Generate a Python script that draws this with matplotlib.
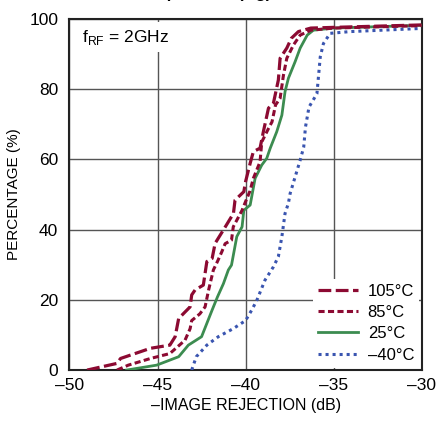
import matplotlib
matplotlib.use("Agg")
import matplotlib.pyplot as plt
from matplotlib.ticker import FuncFormatter, MultipleLocator

plt.rcParams['font.family'] = ['Liberation Sans', 'DejaVu Sans']
plt.rcParams['mathtext.fontset'] = 'custom'
plt.rcParams['mathtext.rm'] = 'Liberation Sans'

labels = ["105°C", "85°C", "25°C", "–40°C"]

x_105 = [-49.0, -47.3, -47.1, -45.4, -44.3, -44.0, -43.8, -43.15, -43.06, -42.87, -42.4, -42.2, -41.9,
         -41.73, -41.26, -40.69, -40.6, -40.1, -40.0, -39.74, -39.56, -39.18, -38.99, -38.7, -38.42,
         -38.14, -38.04, -37.66, -37.4, -37.0, -36.3, -35.0, -30.0]
y_105 = [0, 1.9, 3.3, 6.2, 7.1, 9.5, 14.7, 18, 21.4, 22.8, 24.2, 30.9, 31.8, 36.1, 39.9, 44.6, 48.4,
         50.8, 53.7, 58.9, 62.2, 63.2, 67.9, 74.6, 76.0, 82.6, 88.8, 91.7, 94.5, 96.4, 97.4, 97.6, 98.3]

x_85 = [-47.3, -46.66, -45.4, -44.3, -43.44, -43.15, -43.06, -42.6, -42.3, -42.1, -41.83, -41.6, -41.35,
        -41.16, -40.8, -40.7, -40.2, -40.0, -39.75, -39.56, -39.18, -39.08, -38.7, -38.5, -38.3, -38.04,
        -37.85, -37.66, -37.28, -36.9, -36.3, -35.0, -30.0]
y_85 = [0, 1.4, 3.3, 4.7, 8.5, 11.8, 14.1, 16, 18, 22.8, 28.5, 30.9, 33.7, 36, 37, 40.8, 45.5, 48,
        51, 54.6, 59.3, 65, 68.8, 70.7, 75.5, 77.4, 84, 88.8, 92.6, 95.4, 96.8, 97.4, 98.1]

x_25 = [-46.75, -45.05, -43.8, -43.25, -42.5, -42.2, -41.9, -41.6, -41.26, -40.98, -40.8, -40.5, -40.2,
        -40.1, -39.74, -39.46, -39.08, -38.8, -38.6, -38.23, -37.94, -37.76, -37.57, -37.19, -36.9,
        -36.5, -36.15, -35.0, -30.0]
y_25 = [0, 1.4, 3.8, 7.1, 9.5, 13.3, 17.1, 20.8, 24.6, 28.5, 29.9, 38, 40.8, 45.5, 47, 54.6, 58.4,
        60.3, 63.2, 67.9, 72.6, 79.3, 83.1, 87.8, 91.7, 95.4, 96.8, 97.4, 98.2]

x_m40 = [-43.06, -42.8, -42.2, -41.55, -40.7, -40.0, -39.65, -39.36, -38.9, -38.42, -38.14, -37.94,
         -37.76, -37.57, -37.47, -36.9, -36.7, -36.6, -36.4, -35.95, -35.76, -35.58, -35.2, -34.06, -30.0]
y_m40 = [0, 3.8, 7.1, 9.5, 11.8, 14.1, 17.1, 19.9, 25.6, 29.4, 32.3, 38, 44.6, 47.5, 50.3, 59.8, 63.5,
         69.2, 74.9, 78.7, 89.2, 93, 95.9, 96.4, 97.3]

red = '#8c0a32'
green = '#3c8c50'
blue = '#3a55b0'

fig = plt.figure(figsize=(4.37, 4.21), dpi=100)
ax = fig.add_axes([0.159, 0.121, 0.806, 0.834])

ax.plot(x_105, y_105, color=red, lw=2.3, dashes=(4.0, 1.4), label=labels[0], zorder=4)
ax.plot(x_85, y_85, color=red, lw=2.2, dashes=(2.0, 1.1), label=labels[1], zorder=4)
ax.plot(x_25, y_25, color=green, lw=2.0, label=labels[2], zorder=3)
ax.plot(x_m40, y_m40, color=blue, lw=2.2, dashes=(1.0, 1.3), label=labels[3], zorder=3)

ax.set_xlim(-50, -30)
ax.set_ylim(0, 100)
ax.xaxis.set_major_locator(MultipleLocator(5))
ax.yaxis.set_major_locator(MultipleLocator(20))
ax.xaxis.set_major_formatter(FuncFormatter(lambda v, p: f"{v:.0f}".replace('-', '–')))
ax.grid(True, color='#555555', lw=1.0)
ax.set_axisbelow(True)
ax.tick_params(length=0, labelsize=12.5)
ax.tick_params(axis='x', pad=6)
ax.tick_params(axis='y', pad=8)
for s in ax.spines.values():
    s.set_linewidth(1.5)
    s.set_color('#222222')

ax.set_xlabel("–IMAGE REJECTION (dB)", fontsize=11.5, labelpad=3)
ax.set_ylabel("PERCENTAGE (%)", fontsize=11, labelpad=6)

ax.text(-49.3, 94.8, r"f$_{\rm RF}$ = 2GHz", fontsize=12.5, va='center', ha='left',
        bbox=dict(facecolor='white', edgecolor='none', pad=4), zorder=5)

leg = ax.legend(loc='lower right', bbox_to_anchor=(1.0, 0.0), frameon=True, fontsize=12,
                handlelength=2.4, handletextpad=0.6, labelspacing=0.38, borderpad=0.3,
                borderaxespad=0.15)
leg.get_frame().set_edgecolor('none')
leg.get_frame().set_facecolor('white')
leg.get_frame().set_alpha(1)

fig.text(0.622, 1.004, "Temperature (Hg)", fontsize=12, fontweight='bold', ha='right', va='baseline')

fig.savefig("out.png", dpi=100)
